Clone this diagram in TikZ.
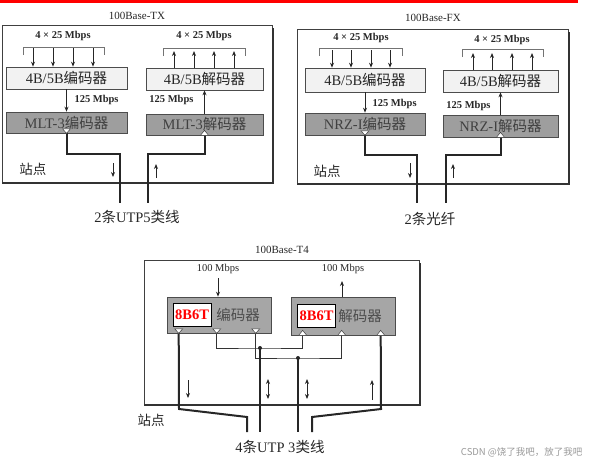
\documentclass[tikz,border=0pt]{standalone}
\usepackage{fontspec}
\setmainfont{Liberation Serif}
\newfontfamily\cjk{Noto Sans CJK SC}
\usetikzlibrary{arrows.meta,calc,shadows}
\newcommand\zh[1]{{\cjk #1}}
\newcommand\fsz[1]{\fontsize{#1}{#1}\selectfont}
\begin{document}
\begin{tikzpicture}[x=1pt,y=-1pt,
  every node/.style={text=black!85},
  frm/.style={draw=black!75,line width=0.8pt},
  frmshadow/.style={draw=black!80,line width=2.4pt},
  boxbase/.style={draw=black!70,line width=0.6pt,inner sep=0pt,
     drop shadow={shadow xshift=1.4pt,shadow yshift=-1.4pt,fill=black!75,opacity=1}},
  lbox/.style={boxbase,fill=black!5,font=\fsz{14.5}},
  dbox/.style={boxbase,fill=black!38,font=\fsz{14.5},text=black!75},
  wire/.style={draw=black!85,line width=2pt},
  thinwire/.style={draw=black!80,line width=1pt},
  brk/.style={draw=black!55,line width=0.6pt},
  sig/.style={draw=black!85,line width=1pt,-{Stealth[length=5pt,width=4pt]}},
  dsig/.style={draw=black!85,line width=1pt,{Stealth[length=5pt,width=4pt]}-{Stealth[length=5pt,width=4pt]}},
  tri/.style={draw=black!75,fill=white,line width=0.5pt},
  rate/.style={font=\fsz{10.5}\bfseries},
  ttl/.style={font=\fsz{11}},
  captxt/.style={font=\fsz{14.5}},
  stn/.style={font=\fsz{13.5}},
  tag/.style={draw=black,fill=white,line width=0.6pt,inner sep=0pt,minimum width=38pt,minimum height=23pt,
     font=\fsz{14.5}\bfseries,text=red}
]
\useasboundingbox (0,0) rectangle (589,461);
\fill[red] (0,0) rectangle (578,2.6);

% ================= 100Base-TX =================
\node[ttl] (txtitle) at (137,16) {100Base-TX};
\draw[frm] (2,25) rectangle (272,182);
\draw[frmshadow] (273,28) -- (273,183) -- (2,183);

\node[rate] (txr1) at (63,36) {4 × 25 Mbps};
\draw[brk] (23,55) -- (23,47) -- (104,47) -- (104,55);
\node[rate] (txr2) at (204,36) {4 × 25 Mbps};
\draw[brk] (163,56) -- (163,48) -- (245,48) -- (245,56);

\node[lbox,minimum width=121pt,minimum height=22pt] (txA) at (66.5,78) {4B/5B\zh{编码器}};
\node[dbox,minimum width=121pt,minimum height=21pt] (txB) at (66.5,122.5) {MLT-3\zh{编码器}};
\node[lbox,minimum width=117pt,minimum height=22pt] (txC) at (204.5,79) {4B/5B\zh{解码器}};
\node[dbox,minimum width=117pt,minimum height=21pt] (txD) at (204.5,124.5) {MLT-3\zh{解码器}};

\foreach \x in {33,53,73,93} \draw[sig] (\x,48) -- (txA.north -| \x,0);
\foreach \x in {174,194,214,234} \draw[sig] (txC.north -| \x,0) -- (\x,51);
\draw[sig] (txA.south) -- (txB.north);
\node[rate,anchor=west] (txr3) at (71,100) {125 Mbps};
\draw[sig] (txD.north) -- (txC.south);
\node[rate,anchor=east] (txr4) at (197,100) {125 Mbps};

\coordinate (txcab1) at (120,203);
\coordinate (txcab2) at (148,203);
\draw[wire] (txB.south) -- ++(0,21) -| (txcab1);
\draw[wire] (txD.south) -- ++(0,19) -| (txcab2);
\draw[tri] ($(txB.south)+(-4,-4.5)$) -- ($(txB.south)+(4,-4.5)$) -- (txB.south) -- cycle;
\draw[tri] ($(txD.south)+(-4,0)$) -- ($(txD.south)+(4,0)$) -- ($(txD.south)+(0,-5)$) -- cycle;
\draw[sig] (113,163) -- (113,177);
\draw[sig] (156,178) -- (156,164);
\node[stn] (txst) at (33,169) {\zh{站点}};
\node[captxt] (txcap) at (137,217) {2\zh{条}UTP5\zh{类线}};

% ================= 100Base-FX =================
\node[ttl] (fxtitle) at (433,18) {100Base-FX};
\draw[frm] (297,29) rectangle (568,183);
\draw[frmshadow] (569,32) -- (569,184) -- (297,184);

\node[rate] (fxr1) at (361,38) {4 × 25 Mbps};
\draw[brk] (319,56) -- (319,48) -- (402,48) -- (402,56);
\node[rate] (fxr2) at (502,40) {4 × 25 Mbps};
\draw[brk] (462,57) -- (462,49) -- (543,49) -- (543,57);

\node[lbox,minimum width=120pt,minimum height=24pt] (fxA) at (365,80) {4B/5B\zh{编码器}};
\node[dbox,minimum width=120pt,minimum height=22pt] (fxB) at (365,124) {NRZ-I\zh{编码器}};
\node[lbox,minimum width=115pt,minimum height=22pt] (fxC) at (500.5,81) {4B/5B\zh{解码器}};
\node[dbox,minimum width=115pt,minimum height=22pt] (fxD) at (500.5,126) {NRZ-I\zh{解码器}};

\foreach \x in {332,351,371,390} \draw[sig] (\x,50) -- (fxA.north -| \x,0);
\foreach \x in {473,492,512,532} \draw[sig] (fxC.north -| \x,0) -- (\x,53);
\draw[sig] (fxA.south) -- (fxB.north);
\node[rate,anchor=west] (fxr3) at (369,104) {125 Mbps};
\draw[sig] (fxD.north) -- (fxC.south);
\node[rate,anchor=east] (fxr4) at (494,106) {125 Mbps};

\coordinate (fxcab1) at (417,203);
\coordinate (fxcab2) at (446,203);
\draw[wire] (fxB.south) -- ++(0,20) -| (fxcab1);
\draw[wire] (fxD.south) -- ++(0,18) -| (fxcab2);
\draw[tri] ($(fxB.south)+(-4,-4.5)$) -- ($(fxB.south)+(4,-4.5)$) -- (fxB.south) -- cycle;
\draw[tri] ($(fxD.south)+(-4,0)$) -- ($(fxD.south)+(4,0)$) -- ($(fxD.south)+(0,-5)$) -- cycle;
\draw[sig] (410,163) -- (410,178);
\draw[sig] (453,178) -- (453,164);
\node[stn] (fxst) at (327,171) {\zh{站点}};
\node[captxt] (fxcap) at (430,219) {2\zh{条光纤}};

% ================= 100Base-T4 =================
\node[ttl] (t4title) at (282,250) {100Base-T4};
\draw[frm] (144,260) rectangle (419,404);
\draw[frmshadow] (420,263) -- (420,405) -- (144,405);

\node[boxbase,fill=black!35,minimum width=104pt,minimum height=36pt] (t4E) at (219,315) {};
\node[boxbase,fill=black!35,minimum width=104pt,minimum height=38pt] (t4D) at (343,316) {};
\node[tag] (t4Etag) at (192,314.5) {8B6T};
\node[font=\fsz{14.5},text=black!70] (t4Etxt) at (238,315) {\zh{编码器}};
\node[tag] (t4Dtag) at (316.5,315.5) {8B6T};
\node[font=\fsz{14.5},text=black!70] (t4Dtxt) at (360,316) {\zh{解码器}};

\node[font=\fsz{10.5}] (t4r1) at (218,269) {100 Mbps};
\node[font=\fsz{10.5}] (t4r2) at (343,269) {100 Mbps};
\draw[sig] (218,278) -- (t4E.north -| 218,0);
\draw[sig] (t4D.north -| 342,0) -- (342,281);

\coordinate (e1) at ($(t4E.south west)+(12,0)$);
\coordinate (e2) at ($(t4E.south west)+(50,0)$);
\coordinate (e3) at ($(t4E.south west)+(89,0)$);
\coordinate (d1) at ($(t4D.south west)+(12,0)$);
\coordinate (d2) at ($(t4D.south west)+(51,0)$);
\coordinate (d3) at ($(t4D.south west)+(90,0)$);
\coordinate (j1) at (260,348);
\coordinate (j2) at (298,358);
\coordinate (c1) at (247,432);
\coordinate (c2) at (260,432);
\coordinate (c3) at (298,432);
\coordinate (c4) at (312,432);

\draw[thinwire] (e2) |- (j1) -| (d1);
\draw[thinwire] (e3) |- (j2) -| (d2);
\draw[wire] (j1) -- (c2);
\draw[wire] (j2) -- (c3);
\fill[black!85] (j1) circle (2pt) (j2) circle (2pt);
\draw[wire] (e1) -- (179,409) -- (247,417) -- (c1);
\draw[wire] (d3) -- (381,409) -- (312,417) -- (c4);

\foreach \c in {e1,e2,e3}
  \draw[tri] ($(\c)+(-4,-4.5)$) -- ($(\c)+(4,-4.5)$) -- (\c) -- cycle;
\foreach \c in {d1,d2,d3}
  \draw[tri] ($(\c)+(-4,0)$) -- ($(\c)+(4,0)$) -- ($(\c)+(0,-5)$) -- cycle;

\draw[sig] (188,380) -- (188,398);
\draw[dsig] (268,379) -- (268,399);
\draw[dsig] (307,379) -- (307,399);
\draw[sig] (372,400) -- (372,380);

\node[stn] (t4st) at (151,420) {\zh{站点}};
\node[captxt] (t4cap) at (280,447) {4\zh{条}UTP 3\zh{类线}};

\node[anchor=east,font=\cjk\fsz{9.5},text=black!40] (wm) at (586,452) {CSDN @饶了我吧，放了我吧};
\end{tikzpicture}
\end{document}
